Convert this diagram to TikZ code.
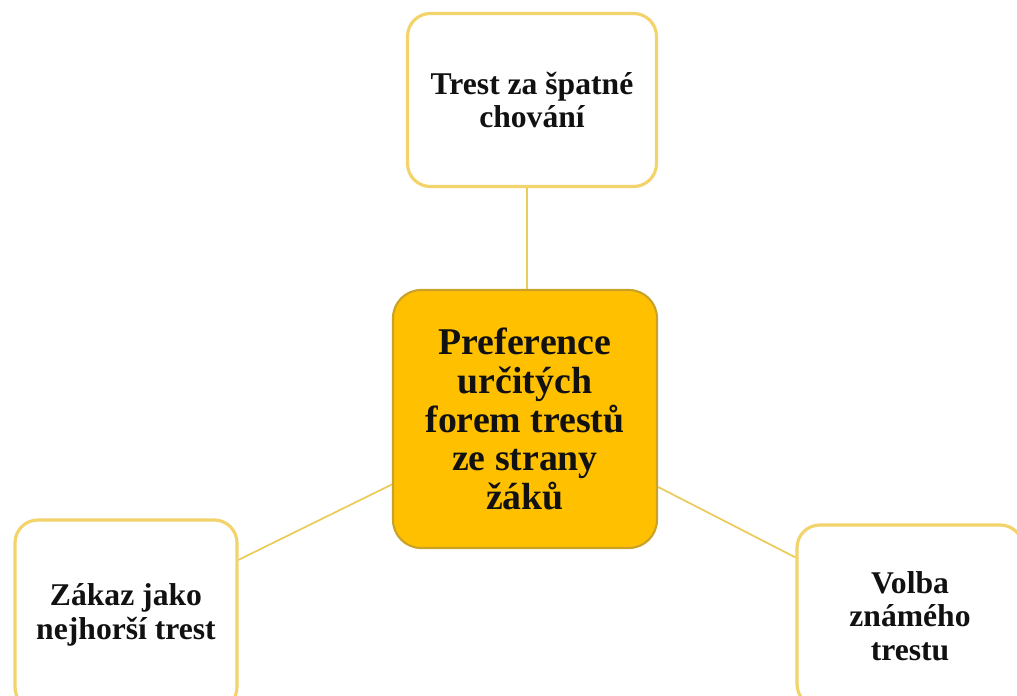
\documentclass[tikz,border=0pt]{standalone}
\usepackage{fontspec}
\setmainfont{Liberation Serif}
\definecolor{gdFill}{HTML}{FFC000}
\definecolor{gdEdge}{HTML}{C9A227}
\definecolor{gdLight}{HTML}{F3D36B}
\definecolor{gdLine}{HTML}{EBCB5C}
\definecolor{gdInk}{HTML}{111111}
\begin{document}
\begin{tikzpicture}[
  hub/.style={draw=gdEdge, fill=gdFill, line width=1.2pt, rounded corners=16pt, minimum width=5.28cm, minimum height=5.16cm, align=center, text=gdInk, font=\fontsize{21.5}{22}\selectfont\bfseries},
  leaf/.style={draw=gdLight, fill=white, line width=1.8pt, rounded corners=13pt, align=center, text=gdInk, font=\fontsize{18}{19}\selectfont\bfseries},
  link/.style={draw=gdLine, line width=1pt},
]
\useasboundingbox (0,0) rectangle (20.34,13.9);
% ---- nodes ----
\node[hub] (pref) at (10.5,5.52){Preference\\určitých\\forem trestů\\ze strany\\žáků};
\node[leaf, minimum width=4.98cm, minimum height=3.46cm] (bad) at (10.64,11.9){Trest za špatné\\chování};
\node[leaf, minimum width=4.44cm, minimum height=3.8cm] (ban) at (2.52,1.6){Zákaz jako\\nejhorší trest};
\node[leaf, minimum width=4.52cm, minimum height=3.64cm] (known) at (18.2,1.58){Volba\\známého\\trestu};
% ---- connectors ----
\draw[link] (bad.south -| 10.54,0) -- (pref.north -| 10.54,0);
\draw[link] (pref) -- (ban);
\draw[link] (pref) -- (known);
\end{tikzpicture}
\end{document}
